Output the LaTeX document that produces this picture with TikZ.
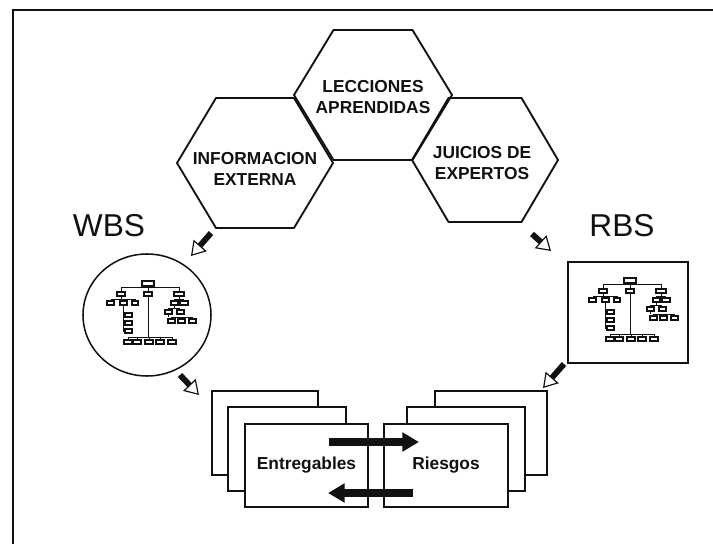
\documentclass[tikz,border=0pt]{standalone}
\usepackage{fontspec}
\setmainfont{Liberation Sans}
\usetikzlibrary{arrows.meta, shapes.geometric}
\definecolor{ink}{HTML}{111111}

% one honeycomb cell: centre x, centre y, half width, half height (pixels)
\newcommand{\hexcell}[4]{%
  \draw[hexline] (#1-#3,#2) -- (#1-#3/2,#2-#4) -- (#1+#3/2,#2-#4)
    -- (#1+#3,#2) -- (#1+#3/2,#2+#4) -- (#1-#3/2,#2+#4) -- cycle;}

% little breakdown tree, origin at the centre of its top box
\newcommand{\orgchart}{%
  \draw[chartline] (0,3) -- (0,4) (-27,4) -- (31,4)
    (-27,4) -- (-27,9) (0,4) -- (0,9) (31,4) -- (31,9)
    (0,13) -- (0,54) (-20,54) -- (24,54)
    (-27,13) -- (-27,16) (-37,16) -- (-13,16)
    (-25,16) -- (-25,48) (-25,32) -- (-23,32) (-25,40) -- (-23,40) (-25,48) -- (-23,48)
    (31,13) -- (31,16) (26,16) -- (36,16)
    (26,22) -- (26,25) (20,25) -- (32,25)
    (20,31) -- (20,34) (23,34) -- (45,34);
  \foreach \x in {-20,-11,1,12,24} \draw[chartline] (\x,54) -- (\x,57);
  \foreach \x in {-37,-13} \draw[chartline] (\x,16) -- (\x,18);
  \foreach \x in {23,33,44} \draw[chartline] (\x,34) -- (\x,36);
  \foreach \a/\b/\c/\d in {-6/-2/6/3,
      -31/9/-23/13, -4/9/4/13, 26/9/36/13,
      -41/18/-34/22, -28/18/-21/22, -16/18/-10/22,
      -23/30/-16/34, -23/38/-16/42, -23/46/-16/50,
      -24/57/-16/61, -15/57/-7/61, -3/57/5/61, 8/57/16/61, 20/57/28/61,
      23/18/30/22, 32/18/40/22,
      17/27/24/31, 29/27/36/31,
      20/36/27/40, 30/36/37/40, 41/36/48/40}
    \draw[chartbox] (\a,\b) rectangle (\c,\d);
}

\begin{document}
\begin{tikzpicture}[
    x=0.03cm, y=-0.03cm,
    every node/.style={text=ink},
    hexline/.style={draw=ink, line width=1.6pt, line join=round},
    hextag/.style={font=\bfseries\fontsize{14.8}{18}\selectfont, align=center},
    bigtag/.style={font=\fontsize{27}{30}\selectfont, anchor=base},
    stackcard/.style={draw=ink, fill=white, line width=1.2pt, inner sep=0pt},
    stacktag/.style={font=\bfseries\fontsize{14.8}{18}\selectfont},
    chartline/.style={draw=ink, line width=0.6pt},
    chartbox/.style={draw=ink, fill=white, line width=1.2pt},
    feed/.style={ink, line width=5pt,
      -{Triangle[fill=white, length=0.42cm, width=0.52cm, line width=1pt]}},
    swap/.style={ink, line width=6pt, -{Triangle[length=0.5cm, width=0.55cm]}},
]
\useasboundingbox (0,0) rectangle (713,544);

% ---------------------------------------------------------- frame
\draw[ink, line width=1.2pt] (13,544) -- (13,10) -- (713,10);

% ---------------------------------------------------------- honeycomb
\hexcell{373}{95}{79}{65}
\hexcell{255}{163}{78}{65}
\hexcell{485}{160}{73}{62}
\node[hextag] (lessons)  at (373,97)  {LECCIONES\\APRENDIDAS};
\node[hextag] (external) at (255,169) {INFORMACION\\EXTERNA};
\node[hextag] (experts)  at (482,163) {JUICIOS DE\\EXPERTOS};

% ---------------------------------------------------------- breakdowns
\node[bigtag] (wbs) at (109,236) {WBS};
\node[bigtag] (rbs) at (622,236) {RBS};

\node[draw=ink, ellipse, line width=1.3pt, inner sep=0pt,
      minimum width=3.84cm, minimum height=3.66cm] (wbsmap) at (147,315) {};
\node[draw=ink, line width=1.4pt, inner sep=0pt,
      minimum width=3.6cm, minimum height=3.03cm] (rbsmap) at (628,312.5) {};

\begin{scope}[shift={(148,283)}]
  \orgchart
\end{scope}
\begin{scope}[shift={(630,280)}]
  \orgchart
\end{scope}

% ---------------------------------------------------------- card stacks
\node[stackcard, minimum width=3.18cm, minimum height=2.52cm] (entback) at (265,433) {};
\node[stackcard, minimum width=3.54cm, minimum height=2.52cm] (entmid)  at (287,449) {};
\node[stackcard, stacktag, minimum width=3.69cm, minimum height=2.49cm]
    (ent) at (306.5,465.5) {Entregables};

\node[stackcard, minimum width=3.36cm, minimum height=2.52cm] (rieback) at (491,433) {};
\node[stackcard, minimum width=3.54cm, minimum height=2.52cm] (riemid)  at (466,449) {};
\node[stackcard, stacktag, minimum width=3.72cm, minimum height=2.49cm]
    (rie) at (446,465.5) {Riesgos};

% ---------------------------------------------------------- feeding arrows
\coordinate (extfoot) at (211,233);
\coordinate (wbsin)   at (191,256);
\coordinate (expfoot) at (532,234);
\coordinate (rbsin)   at (551,251);
\coordinate (wbsfoot) at (180,375);
\coordinate (entin)   at (199,395);
\coordinate (rbsfoot) at (564,364);
\coordinate (riein)   at (543,388);
\draw[feed] (extfoot) -- (wbsin);
\draw[feed] (expfoot) -- (rbsin);
\draw[feed] (wbsfoot) -- (entin);
\draw[feed] (rbsfoot) -- (riein);

% ---------------------------------------------------------- exchange
\coordinate (fwdtail)  at (329,442);
\coordinate (fwdtip)   at (419,442);
\coordinate (backtail) at (413,493);
\coordinate (backtip)  at (328,493);
\draw[swap] (fwdtail) -- (fwdtip);
\draw[swap] (backtail) -- (backtip);

\end{tikzpicture}
\end{document}
